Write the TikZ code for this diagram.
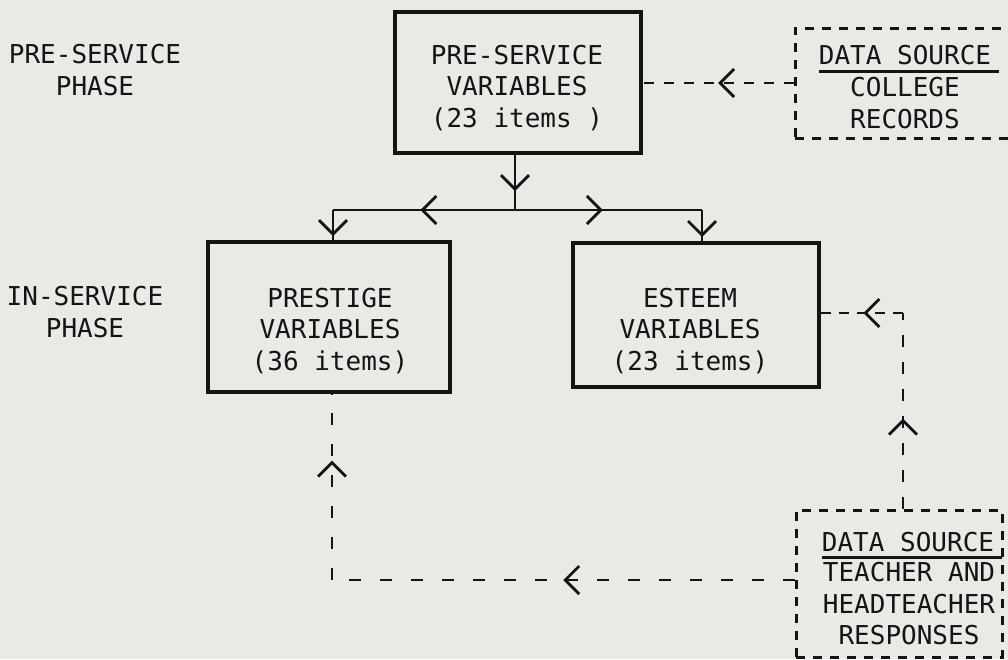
\documentclass[tikz,border=0pt]{standalone}
\usepackage{fontspec}
\newfontfamily\typ{DejaVu Sans Mono}
\usetikzlibrary{arrows.meta,decorations.markings}
\definecolor{paper}{RGB}{232,235,229}
\definecolor{ink}{RGB}{20,20,20}
\begin{document}
\begin{tikzpicture}[x=1pt,y=-1pt,
  chev/.tip={Straight Barb[length=14pt,width=28pt]},
  txt/.style={font=\typ\fontsize{26}{31.5}\selectfont, align=center, inner sep=0pt, text=ink},
  solidbox/.style={draw=ink, line width=3.2pt, rectangle, inner sep=0pt},
  dashbox/.style={draw=ink, line width=3pt, rectangle, inner sep=0pt, dash pattern=on 9pt off 8pt},
  conn/.style={draw=ink, line width=2.6pt},
  dline/.style={draw=ink, line width=2.8pt, dash pattern=on 11pt off 11pt},
  uline/.style={draw=ink, line width=2.8pt},
  midarrow/.style={postaction={decorate}, decoration={markings, mark=at position #1 with {\arrow[line width=2.8pt]{chev}}}}
]
\useasboundingbox[fill=paper] (0,0) rectangle (1008,659);
\clip (0,0) rectangle (1008,659);

% phase labels
\node[txt] (prelabel) at (95,70) {PRE-SERVICE\\PHASE};
\node[txt] (inlabel) at (85,312) {IN-SERVICE\\PHASE};

% main boxes
\node[solidbox, minimum width=246pt, minimum height=141pt] (pre) at (518,82.5) {};
\node[txt] (pretext) at (517,88) {PRE-SERVICE\\VARIABLES\\(23 items )};

\node[solidbox, minimum width=242pt, minimum height=150pt] (prestige) at (329,317) {};
\node[txt] (prestigetext) at (330,331) {PRESTIGE\\VARIABLES\\(36 items)};

\node[solidbox, minimum width=246pt, minimum height=144pt] (esteem) at (696,315) {};
\node[txt] (esteemtext) at (690,331) {ESTEEM\\VARIABLES\\(23 items)};

% data source boxes
\node[dashbox, minimum width=235pt, minimum height=110pt] (college) at (912.5,83) {};
\node[txt] (cs1) at (905,55) {DATA SOURCE};
\node[txt] (cs2) at (905,103) {COLLEGE\\RECORDS};
\draw[uline] ([yshift=-6.5pt]cs1.south west) -- ([xshift=8pt,yshift=-6.5pt]cs1.south east);

\node[dashbox, minimum width=206pt, minimum height=147pt] (teach) at (899,583.5) {};
\node[txt] (ts1) at (908,542) {DATA SOURCE};
\node[txt] (ts2) at (909,604) {TEACHER AND\\HEADTEACHER\\RESPONSES};
\draw[uline] ([yshift=-5.5pt]ts1.south west) -- ([xshift=8pt,yshift=-5.5pt]ts1.south east);

% solid connectors
\coordinate (split) at (515,210);
\coordinate (jl) at (333,210);
\coordinate (jr) at (702,210);
\draw[conn, midarrow=0.66] (pre.south -| split) -- (split);
\draw[conn, midarrow=0.52] (split) -- (jl);
\draw[conn, midarrow=0.47] (split) -- (jr);
\draw[conn, midarrow=0.86] (jl) -- (jl |- prestige.north);
\draw[conn, midarrow=0.86] (jr) -- (jr |- esteem.north);

% dashed connectors
\draw[dline, dash pattern=on 10pt off 10pt, midarrow=0.5] (college.west) -- (college.west -| pre.east);

\coordinate (ec) at (903,313);
\draw[dline, dash pattern=on 12pt off 15pt, midarrow=0.46] (ec |- teach.north) -- (ec);
\draw[dline, dash pattern=on 10pt off 8pt, midarrow=0.48] (ec) -- (ec -| esteem.east);

\coordinate (bc) at (332,580);
\draw[dline, dash pattern=on 12pt off 19pt, midarrow=0.5] (teach.west |- bc) -- (bc);
\draw[dline, dash pattern=on 12pt off 19pt, midarrow=0.64] (bc) -- (bc |- prestige.south);
\end{tikzpicture}
\end{document}
